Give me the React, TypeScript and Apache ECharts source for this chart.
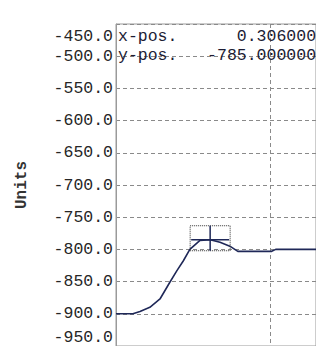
import React, { useEffect, useRef } from "react";
import * as echarts from "echarts";

const xValues = [0, 0.055, 0.078, 0.11, 0.143, 0.175, 0.198, 0.2185, 0.24, 0.273, 0.306, 0.338, 0.37, 0.396, 0.506, 0.519, 0.65];
const yValues = [-900, -900, -896.5, -890, -877, -851, -833, -818, -800, -786, -785, -789, -795, -803, -803, -800, -800];
const cursorX = 0.306;
const cursorY = -785;
const yMin = -950;
const yMax = -450;
const yStep = 50;
const xMin = 0;
const xMax = 0.65;
const xStep = 0.5;
const yAxisName = "Units";

const FONT = "'Liberation Mono', 'DejaVu Sans Mono', monospace";
const NAVY = "#1f2858";

export default function App() {
  const ref = useRef<HTMLDivElement>(null);
  useEffect(() => {
    if (!ref.current) return;
    const chart = echarts.init(ref.current, null, { renderer: "svg" });
    const line1 = "x-pos." + cursorX.toFixed(6).padStart(14, " ");
    const line2 = "y-pos." + cursorY.toFixed(6).padStart(14, " ");
    chart.setOption({
      animation: false,
      backgroundColor: "#ffffff",
      grid: {
        left: 116,
        top: 24,
        right: 0,
        bottom: -1,
        show: true,
        borderColor: "#9a9a9a",
        borderWidth: 1,
        backgroundColor: "transparent",
      },
      xAxis: {
        type: "value",
        min: xMin,
        max: xMax,
        interval: xStep,
        axisLabel: { show: false },
        axisTick: { show: false },
        axisLine: { show: false },
        splitLine: {
          show: true,
          lineStyle: { color: "#8a8a8a", type: [4, 3], width: 1 },
        },
      },
      yAxis: {
        type: "value",
        min: yMin,
        max: yMax,
        interval: yStep,
        name: yAxisName,
        nameLocation: "middle",
        nameRotate: 90,
        nameGap: 86,
        nameTextStyle: {
          fontFamily: FONT,
          fontSize: 16,
          fontWeight: "bold",
          color: "#333",
        },
        axisLine: { show: true, lineStyle: { color: "#9a9a9a" } },
        axisTick: { show: false },
        axisLabel: {
          margin: 3,
          fontFamily: FONT,
          fontSize: 16.5,
          color: "#262626",
          formatter: (v: number) =>
            v === yMax ? `{t|${v.toFixed(1)}}` : v.toFixed(1),
          rich: {
            t: {
              fontFamily: FONT,
              fontSize: 16.5,
              color: "#262626",
              padding: [4, 0, 0, 0],
            },
          },
          verticalAlignMaxLabel: "top",
          verticalAlignMinLabel: "bottom",
        },
        splitLine: {
          show: true,
          lineStyle: { color: "#8a8a8a", type: [4, 3], width: 1 },
        },
      },
      graphic: [
        {
          type: "text",
          left: 118,
          top: 27,
          z: 10,
          style: {
            text: line1 + "\n" + line2,
            font: `16.5px ${FONT}`,
            fill: "#1c1c34",
            lineHeight: 19,
          },
        },
      ],
      series: [
        {
          type: "line",
          data: xValues.map((x, i) => [x, yValues[i]]),
          showSymbol: false,
          smooth: false,
          lineStyle: { color: NAVY, width: 1.6 },
        },
        {
          type: "custom",
          data: [[cursorX, cursorY]],
          z: 5,
          renderItem: (params: any, api: any) => {
            const p = api.coord([api.value(0), api.value(1)]);
            return {
              type: "group",
              children: [
                {
                  type: "rect",
                  shape: { x: p[0] - 20, y: p[1] - 14, width: 40, height: 25 },
                  style: { fill: "none", stroke: "#333", lineWidth: 1, lineDash: [1, 1] },
                },
                {
                  type: "line",
                  shape: { x1: p[0], y1: p[1] - 14, x2: p[0], y2: p[1] + 11 },
                  style: { stroke: NAVY, lineWidth: 1.5 },
                },
                {
                  type: "line",
                  shape: { x1: p[0] - 19, y1: p[1], x2: p[0] + 19, y2: p[1] },
                  style: { stroke: NAVY, lineWidth: 1.5 },
                },
              ],
            };
          },
        },
      ],
    });
    return () => chart.dispose();
  }, []);
  return (
    <div
      ref={ref}
      style={{ position: "fixed", left: 0, top: 0, width: 316, height: 346 }}
    />
  );
}
